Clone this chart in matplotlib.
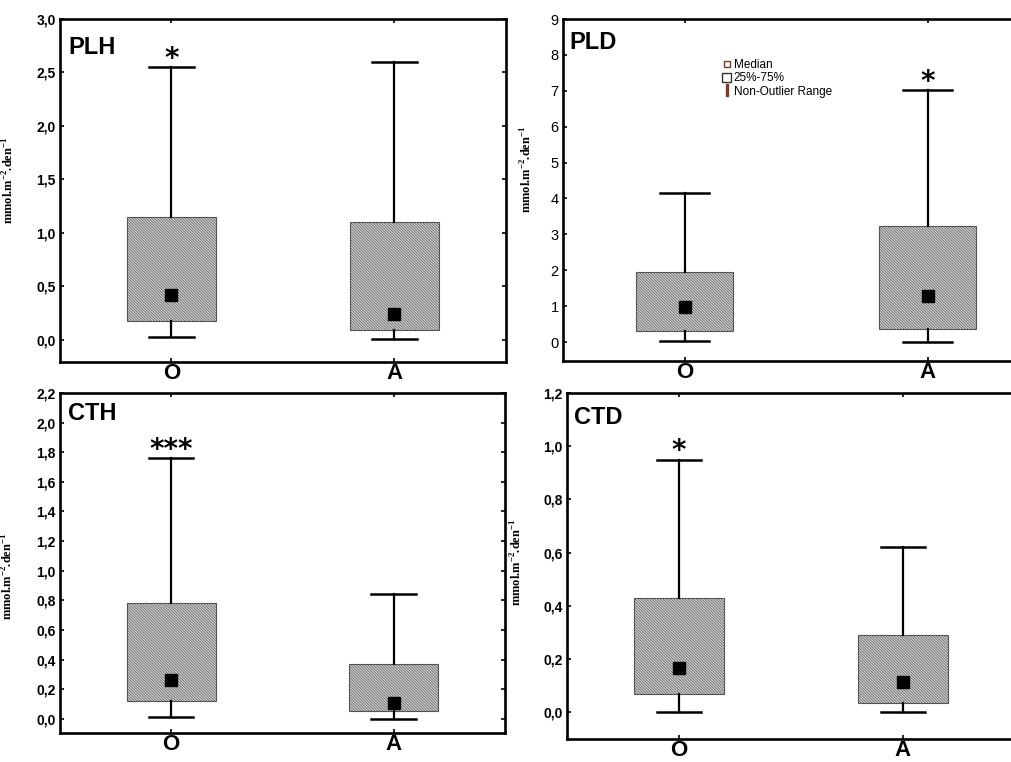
#Box plots of PLH, PLD, CTH, CTD for groups O and A

import matplotlib
matplotlib.use('Agg')
import matplotlib.pyplot as plt
from matplotlib.lines import Line2D
from matplotlib.patches import Patch

groups = ['O', 'A']
panels = ['PLH', 'PLD', 'CTH', 'CTD']

# per panel: [O, A]
whisk_lo = {'PLH': [0.02, 0.01], 'PLD': [0.02, 0.0], 'CTH': [0.01, 0.0], 'CTD': [0.0, 0.0]}
q1 = {'PLH': [0.17, 0.09], 'PLD': [0.32, 0.35], 'CTH': [0.12, 0.05], 'CTD': [0.07, 0.035]}
medians = {'PLH': [0.42, 0.24], 'PLD': [0.97, 1.27], 'CTH': [0.26, 0.11], 'CTD': [0.165, 0.115]}
q3 = {'PLH': [1.15, 1.10], 'PLD': [1.95, 3.22], 'CTH': [0.78, 0.37], 'CTD': [0.43, 0.29]}
whisk_hi = {'PLH': [2.55, 2.60], 'PLD': [4.15, 7.02], 'CTH': [1.76, 0.84], 'CTD': [0.95, 0.62]}
stars = {'PLH': ['*', ''], 'PLD': ['', '*'], 'CTH': ['***', ''], 'CTD': ['*', '']}

yticks = {
    'PLH': [0.0, 0.5, 1.0, 1.5, 2.0, 2.5, 3.0],
    'PLD': [0, 1, 2, 3, 4, 5, 6, 7, 8, 9],
    'CTH': [0.0, 0.2, 0.4, 0.6, 0.8, 1.0, 1.2, 1.4, 1.6, 1.8, 2.0, 2.2],
    'CTD': [0.0, 0.2, 0.4, 0.6, 0.8, 1.0, 1.2],
}
ylims = {'PLH': (-0.21, 3.0), 'PLD': (-0.53, 9.0), 'CTH': (-0.095, 2.2), 'CTD': (-0.1, 1.2)}

# axes rectangles in figure fractions
rects = {
    'PLH': [0.0593, 0.5249, 0.4411, 0.4501],
    'PLD': [0.5569, 0.5262, 0.4807, 0.4488],
    'CTH': [0.0593, 0.0381, 0.4402, 0.4462],
    'CTD': [0.5608, 0.0302, 0.4431, 0.4541],
}
title_pos = {'PLH': (0.018, 0.918), 'PLD': (0.014, 0.93), 'CTH': (0.018, 0.941), 'CTD': (0.016, 0.93)}
ylabel_pos = {'PLH': (-0.098, 0.53), 'PLD': (-0.058, 0.56), 'CTH': (-0.099, 0.46), 'CTD': (-0.094, 0.51)}

plt.rcParams['hatch.linewidth'] = 0.5
plt.rcParams['hatch.color'] = '#3c3c3c'

fig = plt.figure(figsize=(10.11, 7.62), dpi=100)

for name in panels:
    ax = fig.add_axes(rects[name])

    stats = []
    for i in range(2):
        stats.append({'whislo': whisk_lo[name][i], 'q1': q1[name][i], 'med': medians[name][i],
                      'q3': q3[name][i], 'whishi': whisk_hi[name][i], 'fliers': []})
    bp = ax.bxp(stats, positions=[0, 1], widths=0.4, capwidths=0.2, patch_artist=True,
                showfliers=False,
                boxprops=dict(facecolor='#d4d4d4', edgecolor='#555555', linewidth=0.8,
                              hatch='\\' * 12),
                whiskerprops=dict(color='black', linewidth=1.6),
                capprops=dict(color='black', linewidth=1.8),
                medianprops=dict(linestyle='none'))
    ax.plot([0, 1], medians[name], linestyle='none', marker='s', markersize=8,
            color='black')

    # significance stars
    for i in range(2):
        if stars[name][i]:
            ax.annotate(stars[name][i], (i, whisk_hi[name][i]), xytext=(0, -4),
                        textcoords='offset points', ha='center', va='bottom',
                        fontsize=20, fontweight='bold', family='DejaVu Sans')

    ax.set_xlim(-0.5, 1.5)
    ax.set_ylim(*ylims[name])
    ax.set_xticks([0, 1])
    ax.set_xticklabels(groups, fontsize=16, fontweight='bold', family='Liberation Sans')
    ax.set_yticks(yticks[name])
    if name == 'PLD':
        ax.set_yticklabels([str(v) for v in yticks[name]], fontsize=10.5,
                           family='Liberation Sans')
    else:
        ax.set_yticklabels([('%.1f' % v).replace('.', ',') for v in yticks[name]],
                           fontsize=10, fontweight='bold', family='Liberation Sans')
    ax.tick_params(axis='both', direction='in', length=3, width=1.2, top=True, right=True)
    ax.tick_params(axis='x', pad=1)
    ax.tick_params(axis='y', pad=3)
    for sp in ax.spines.values():
        sp.set_linewidth(1.9)

    ax.set_ylabel('mmol.m$^{\\mathregular{-2}}$.den$^{\\mathregular{-1}}$', fontsize=9,
                  fontweight='bold', family='Liberation Serif')
    ax.yaxis.set_label_coords(*ylabel_pos[name])

    ax.text(title_pos[name][0], title_pos[name][1], name, transform=ax.transAxes,
            ha='left', va='center', fontsize=17, fontweight='bold', family='Liberation Sans')

    if name == 'PLD':
        handles = [
            Line2D([], [], linestyle='none', marker='s', markersize=4,
                   markerfacecolor='white', markeredgecolor='#7a3b2e'),
            Patch(facecolor='white', edgecolor='#333333'),
            Line2D([], [], linestyle='none', marker='$\\mathrm{I}$', markersize=8,
                   color='#7a3b2e'),
        ]
        ax.legend(handles, ['Median', '25%-75%', 'Non-Outlier Range'], loc='upper left',
                  bbox_to_anchor=(0.315, 0.9), frameon=False, handlelength=0.8,
                  handleheight=0.8, handletextpad=0.2, labelspacing=0.1, borderpad=0,
                  prop={'family': ['Liberation Sans Narrow', 'Liberation Sans'], 'size': 8.5})

plt.savefig('out.png', dpi=100)
